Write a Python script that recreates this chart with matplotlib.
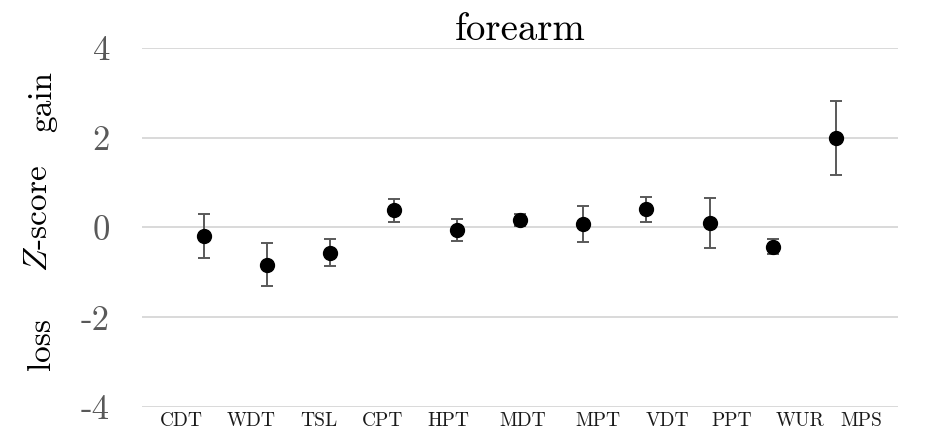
import numpy as np
import matplotlib.pyplot as plt

plt.rcParams['font.family'] = 'cmr10'
plt.rcParams['mathtext.fontset'] = 'cm'
plt.rcParams['axes.formatter.use_mathtext'] = True

# Z-score per test (mean and error)
tests = ["CDT", "WDT", "TSL", "CPT", "HPT", "MDT", "MPT", "VDT", "PPT", "WUR", "MPS"]
zscore = [-0.19, -0.83, -0.56, 0.38, -0.05, 0.16, 0.07, 0.41, 0.10, -0.43, 1.99]
err = [0.50, 0.48, 0.30, 0.26, 0.245, 0.13, 0.40, 0.28, 0.56, 0.17, 0.82]

yticks = [-4, -2, 0, 2, 4]
ytick_labels = ["-4", "-2", "0", "2", "4"]

x = np.arange(len(tests))
# category labels sit a little off the markers
label_shift = [-0.35, -0.26, -0.18, -0.17, -0.14, 0.05, 0.23, 0.33, 0.35, 0.43, 0.4]

fig = plt.figure(figsize=(9.47, 4.33), dpi=100)
ax = fig.add_axes([142/947, 1-407/433, (898-142)/947, (407-48)/433])

ax.errorbar(x, zscore, yerr=err, fmt='o', color='black', markersize=10,
            ecolor='#595959', elinewidth=1.4, capsize=4, capthick=1.4, zorder=3)

ax.set_xlim(-0.98, 10.98)
ax.set_ylim(-4, 4)
ax.set_yticks(yticks)
ax.set_yticklabels(ytick_labels, fontsize=25, color='#595959')
ax.set_xticks(x + np.array(label_shift))
ax.set_xticklabels(tests, fontsize=14, color='#1a1a1a')
ax.tick_params(axis='both', length=0)
ax.tick_params(axis='y', pad=23)
ax.tick_params(axis='x', pad=4)
ax.grid(axis='y', color='#d9d9d9', linewidth=1.4)
ax.set_axisbelow(True)
for s in ax.spines.values():
    s.set_visible(False)

ax.set_title("forearm", fontsize=28, pad=4)

# y-axis caption in three parts
fig.text(43/947, 1-102/433, "gain", rotation=90, fontsize=24, ha='center', va='center')
fig.text(38/947, 1-218/433, r"$Z$-score", rotation=90, fontsize=24, ha='center', va='center')
fig.text(41/947, 1-344/433, "loss", rotation=90, fontsize=24, ha='center', va='center')

fig.savefig("out.png", dpi=100)
